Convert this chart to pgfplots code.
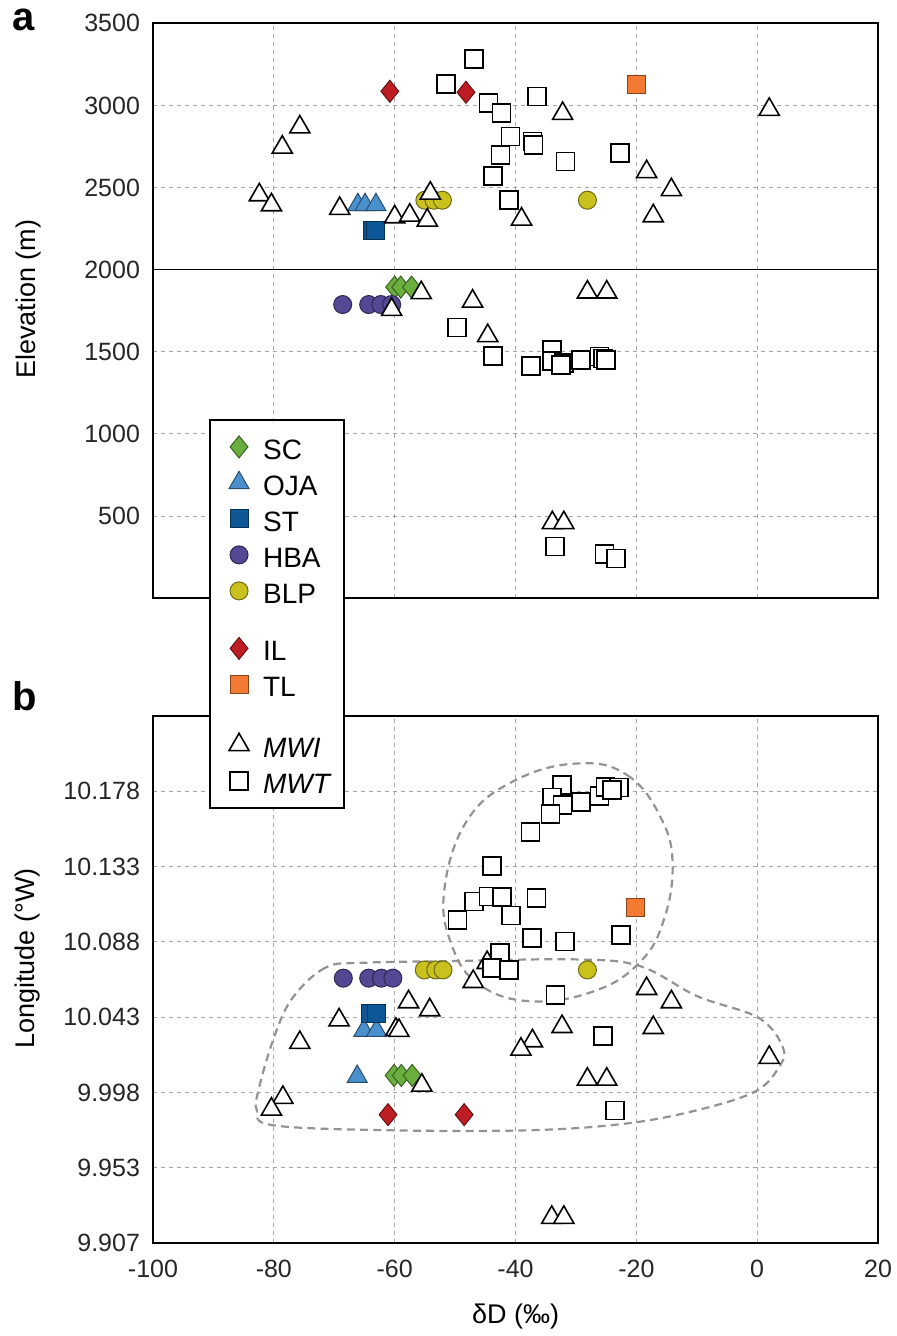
\documentclass[border=0pt]{standalone}
\usepackage{fontspec}
\setmainfont{Liberation Sans}
\usepackage{pgfplots}
\pgfplotsset{compat=1.18}

\definecolor{cSC}{HTML}{6AAF3D}
\definecolor{cOJA}{HTML}{4A90CC}
\definecolor{cST}{HTML}{0E5797}
\definecolor{cHBA}{HTML}{544895}
\definecolor{cBLP}{HTML}{C9C21E}
\definecolor{cIL}{HTML}{BE1E23}
\definecolor{cTL}{HTML}{F37A32}

\newcommand{\ls}{\rule[-4.5pt]{0pt}{18.25pt}}

\pgfplotsset{
  mwi/.style={only marks, mark=triangle*, mark size=5.8pt, mark options={fill=white, draw=black, line width=0.8pt}},
  mwt/.style={only marks, mark=square*, mark size=4.5pt, mark options={fill=white, draw=black, line width=0.8pt}},
  sc/.style={only marks, mark=diamond*, mark size=5.5pt, mark options={xscale=1.08, fill=cSC, draw=cSC!55!black, line width=0.5pt}},
  oja/.style={only marks, mark=triangle*, mark size=5.8pt, mark options={fill=cOJA, draw=cOJA!55!black, line width=0.5pt}},
  st/.style={only marks, mark=square*, mark size=4.5pt, mark options={fill=cST, draw=cST!55!black, line width=0.5pt}},
  hba/.style={only marks, mark=*, mark size=4.5pt, mark options={fill=cHBA, draw=cHBA!55!black, line width=0.5pt}},
  blp/.style={only marks, mark=*, mark size=4.5pt, mark options={fill=cBLP, draw=cBLP!55!black, line width=0.5pt}},
  il/.style={only marks, mark=diamond*, mark size=5.5pt, mark options={xscale=1.08, fill=cIL, draw=cIL!55!black, line width=0.5pt}},
  tl/.style={only marks, mark=square*, mark size=4.5pt, mark options={fill=cTL, draw=cTL!55!black, line width=0.5pt}},
  common/.style={
    width=362.5pt, scale only axis,
    xmin=-100, xmax=20, xtick={-100,-80,...,20},
    grid=major,
    major grid style={draw=gray!70, line width=0.5pt, dash pattern=on 2pt off 2pt},
    axis line style={line width=1pt},
    major tick length=0pt,
    tick label style={font=\fontsize{12.5}{14}\selectfont, text=black!85},
    /pgf/number format/assume math mode=true,
    /pgf/number format/1000 sep={},
    yticklabel style={xshift=-3pt},
    xticklabel style={yshift=-5pt},
    label style={font=\fontsize{13.5}{16}\selectfont},
  },
}

\begin{document}
\begin{tikzpicture}
\useasboundingbox (0,0) rectangle (448pt,668pt);

\node[font=\bfseries\fontsize{20}{22}\selectfont, anchor=center] at (12pt,658.2pt) {a};
\node[font=\bfseries\fontsize{20}{22}\selectfont, anchor=center] at (12.5pt,320pt) {b};

% ---------------- panel a ----------------
\begin{axis}[common,
  at={(76.5pt,368.85pt)}, anchor=south west,
  height=287.5pt,
  ymin=0, ymax=3500, ytick={500,1000,...,3500},
  xticklabels={},
  ylabel={Elevation (m)},
  ylabel style={at={(axis description cs:-0.1724,0.52)}, anchor=center},
]
\addplot[black, line width=0.6pt, forget plot] coordinates {(-100,2000) (20,2000)};

\addplot[sc, forget plot] table {
x y
-60.0 1894
-59.0 1894
-57.2 1894
};
\addplot[oja, forget plot] table {
x y
-66.1 2395
-64.9 2395
-63.1 2395
};
\addplot[st, forget plot] table {
x y
-63.7 2236
-63.1 2236
};
\addplot[hba, forget plot] table {
x y
-68.6 1788
-64.3 1788
-62.3 1788
-60.5 1788
};
\addplot[blp, forget plot] table {
x y
-55.0 2423
-53.5 2423
-52.1 2423
-28.1 2423
};
\addplot[mwi, forget plot] table {
x y
2.0 2975
-32.2 2950
-75.7 2868
-78.6 2745
-18.3 2596
-14.2 2486
-82.4 2455
-80.4 2394
-69.1 2372
-54.1 2465
-60.0 2321
-57.5 2331
-54.6 2301
-39.0 2307
-17.2 2327
-55.6 1859
-47.1 1808
-28.1 1863
-24.9 1863
-60.5 1757
-44.6 1598
-33.9 459
-32.0 459
};
\addplot[mwt, forget plot] table {
x y
-46.9 3283
-51.5 3130
-44.5 3014
-42.3 2953
-36.4 3055
-40.8 2810
-37.2 2780
-37.0 2760
-42.5 2700
-22.7 2710
-31.7 2658
-43.7 2570
-41.1 2423
-49.7 1648
-43.7 1476
-37.4 1415
-34.0 1512
-34.0 1445
-32.0 1431
-32.5 1420
-29.2 1451
-26.1 1472
-25.5 1460
-25.0 1452
-33.5 316
-25.3 271
-23.4 241
};
\addplot[il, forget plot] table {
x y
-60.8 3086
-48.2 3080
};
\addplot[tl, forget plot] table {
x y
-20.0 3130
};
\end{axis}

% ---------------- panel b ----------------
\begin{axis}[common,
  at={(76.5pt,46.35pt)}, anchor=south west,
  height=263.8pt,
  ymin=9.9075, ymax=10.2225,
  ytick={9.9075,9.9525,9.9975,10.0425,10.0875,10.1325,10.1775},
  yticklabels={9.907,9.953,9.998,10.043,10.088,10.133,10.178},
  xlabel={δD (‰)},
  xlabel style={at={(axis description cs:0.5,0)}, anchor=center, yshift=-36.7pt},
  ylabel={Longitude (°W)},
  ylabel style={at={(axis description cs:-0.1724,0.54)}, anchor=center},
  legend style={at={(axis description cs:0.0772,1.563)}, anchor=north west,
    draw=black, line width=1pt, fill=white,
    font=\fontsize{14}{16}\selectfont,
    inner xsep=6pt, inner ysep=6pt, row sep=2.75pt, column sep=7pt,
    nodes={inner sep=0pt}},
  legend cell align=left,
]
\draw[gray!85, line width=1.1pt, dash pattern=on 4pt off 2.6pt] plot[smooth cycle, tension=0.7] coordinates {
(-29.6,10.194) (-21.5,10.187) (-16,10.162) (-14,10.134) (-15.5,10.10) (-19.5,10.075) (-27,10.058) (-37.5,10.052) (-46,10.062) (-50.5,10.085) (-51.8,10.118) (-48,10.16) (-40,10.184)};
\draw[gray!85, line width=1.1pt, dash pattern=on 4pt off 2.6pt] plot[smooth cycle, tension=0.6] coordinates {
(-65,10.075) (-71.5,10.072) (-77.1,10.053) (-80.2,10.028) (-82.6,9.998) (-82.8,9.987) (-80.2,9.978) (-61.3,9.975) (-37.6,9.975) (-21.7,9.979) (-9.9,9.987) (-0.4,9.998) (3.5,10.012) (4.3,10.024) (0.3,10.042) (-9.9,10.055) (-19.4,10.073) (-30,10.077) (-50,10.076)};

\addplot[sc, forget plot] table {
x y
-60.1 10.0077
-58.9 10.0077
-57.1 10.0077
};
\addplot[oja, forget plot] table {
x y
-65.1 10.0345
-63.0 10.0345
-66.2 10.0070
};
\addplot[st, forget plot] table {
x y
-64.0 10.0449
-63.0 10.0449
};
\addplot[hba, forget plot] table {
x y
-68.5 10.0658
-64.3 10.0658
-62.2 10.0658
-60.3 10.0658
};
\addplot[blp, forget plot] table {
x y
-55.1 10.0707
-53.2 10.0707
-52.0 10.0707
-28.1 10.0707
};
\addplot[mwi, forget plot] table {
x y
-44.7 10.0750
-47.0 10.0637
-18.3 10.0595
-14.2 10.0516
-57.7 10.0516
-54.2 10.0468
-69.2 10.0408
-59.8 10.0351
-59.3 10.0345
-32.3 10.0368
-17.2 10.0362
-75.7 10.0273
-37.2 10.0283
-39.1 10.0233
2.0 10.0184
-55.5 10.0018
-28.1 10.0054
-24.9 10.0054
-78.5 9.9945
-80.4 9.9875
-34.0 9.9229
-32.0 9.9229
};
\addplot[mwt, forget plot] table {
x y
-32.3 10.1811
-34.0 10.1737
-32.2 10.1692
-29.2 10.1711
-34.2 10.1638
-37.5 10.1532
-26.1 10.1745
-25.1 10.1801
-22.9 10.1797
-24.0 10.1781
-43.9 10.1328
-46.9 10.1115
-44.5 10.1145
-42.2 10.1141
-49.6 10.1006
-40.7 10.1031
-36.5 10.1135
-37.3 10.0897
-31.8 10.0876
-22.5 10.0916
-42.6 10.0807
-43.9 10.0718
-41.1 10.0707
-33.4 10.0558
-25.5 10.0314
-23.5 9.9868
};
\addplot[il, forget plot] table {
x y
-61.1 9.9843
-48.5 9.9843
};
\addplot[tl, forget plot] table {
x y
-20.2 10.1081
};

\addlegendimage{sc}\addlegendentry{SC\ls}
\addlegendimage{oja}\addlegendentry{OJA\ls}
\addlegendimage{st}\addlegendentry{ST\ls}
\addlegendimage{hba}\addlegendentry{HBA\ls}
\addlegendimage{blp}\addlegendentry{BLP\ls}
\addlegendimage{empty legend}\addlegendentry{\rule{0pt}{6.5pt}}
\addlegendimage{il}\addlegendentry{IL\ls}
\addlegendimage{tl}\addlegendentry{TL\ls}
\addlegendimage{empty legend}\addlegendentry{\rule{0pt}{8pt}}
\addlegendimage{mwi}\addlegendentry{\textit{MWI}\ls}
\addlegendimage{mwt}\addlegendentry{\textit{MWT}\ls}
\end{axis}
\end{tikzpicture}
\end{document}
